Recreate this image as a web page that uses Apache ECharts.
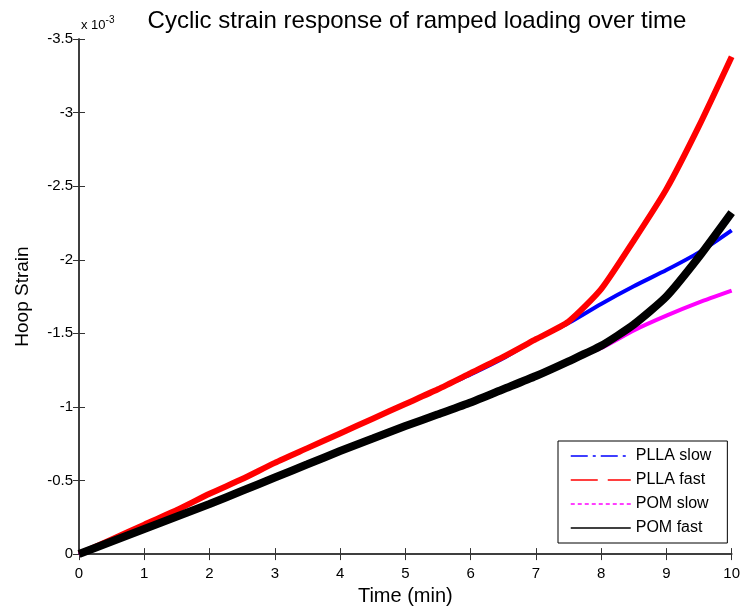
<!DOCTYPE html>
<html>
<head>
<meta charset="utf-8">
<script src="https://cdn.jsdelivr.net/npm/echarts@6/dist/echarts.min.js"></script>
<style>
  html, body { margin: 0; padding: 0; background: #fff; }
  #chart { width: 743px; height: 611px; }
</style>
</head>
<body>
<div id="chart"></div>
<script>
// hoop strain in units of 1e-3, sampled every half minute
var time = [0, 0.5, 1, 1.5, 2, 2.5, 3, 3.5, 4, 4.5, 5, 5.5, 6, 6.5, 7, 7.5, 8, 8.5, 9, 9.5, 10];
var pllaSlow = [0, -0.10, -0.20, -0.30, -0.41, -0.51, -0.62, -0.72, -0.82, -0.92, -1.02, -1.12, -1.22, -1.33, -1.46, -1.57, -1.70, -1.82, -1.93, -2.05, -2.20];
var pllaFast = [0, -0.10, -0.20, -0.30, -0.41, -0.51, -0.62, -0.72, -0.82, -0.92, -1.02, -1.12, -1.23, -1.34, -1.46, -1.58, -1.80, -2.13, -2.48, -2.91, -3.38];
var pomSlow = [0, -0.085, -0.17, -0.255, -0.34, -0.43, -0.52, -0.61, -0.70, -0.785, -0.87, -0.95, -1.03, -1.12, -1.21, -1.31, -1.40, -1.52, -1.62, -1.71, -1.79];
var pomFast = [0, -0.085, -0.17, -0.255, -0.34, -0.43, -0.52, -0.61, -0.70, -0.785, -0.87, -0.95, -1.03, -1.12, -1.21, -1.31, -1.415, -1.56, -1.75, -2.02, -2.32];
var xTicks = [0, 1, 2, 3, 4, 5, 6, 7, 8, 9, 10];

var font = 'Liberation Sans, Arial, sans-serif';
var axisColor = '#333';

function pairs(vals) {
    return time.map(function (t, i) { return [t, vals[i]]; });
}

function makeSeries(name, vals, color, width) {
    return {
        name: name,
        type: 'line',
        data: pairs(vals),
        showSymbol: false,
        symbol: 'none',
        smooth: 0.2,
        lineStyle: { color: color, width: width },
        itemStyle: { color: color },
        animation: false
    };
}

var chart = echarts.init(document.getElementById('chart'));

var boxAxis = {
    axisLine: { show: true, lineStyle: { color: axisColor, width: 1.5 } },
    axisTick: { show: true, inside: true, length: 6, lineStyle: { color: axisColor } },
    splitLine: { show: false }
};

chart.setOption({
    backgroundColor: '#fff',
    title: [{
        text: 'Cyclic strain response of ramped loading over time',
        left: 412,
        top: 4,
        textAlign: 'center',
        textStyle: { fontFamily: font, fontSize: 24, fontWeight: 'normal', color: '#000' }
    }, {
        text: 'x 10{sup|-3}',
        left: 76,
        top: 10,
        textStyle: {
            fontFamily: font, fontSize: 13, fontWeight: 'normal', color: '#000',
            rich: { sup: { fontFamily: font, fontSize: 10, color: '#000', verticalAlign: 'top', padding: [0, 0, 10, 0] } }
        }
    }],
    grid: { left: 79, right: 8, top: 39, bottom: 55 },
    legend: {
        orient: 'vertical',
        left: 558,
        top: 441,
        padding: [7, 16, 7, 12],
        itemWidth: 60,
        itemHeight: 14,
        itemGap: 8,
        backgroundColor: '#fff',
        borderColor: '#000',
        borderWidth: 1,
        itemStyle: { opacity: 0 },
        textStyle: { fontFamily: font, fontSize: 16, color: '#000' },
        data: [
            { name: 'PLLA slow', lineStyle: { width: 1.5, type: [17, 5, 3, 5], color: '#0000ff' } },
            { name: 'PLLA fast', lineStyle: { width: 1.5, type: [27, 10], color: '#ff0000' } },
            { name: 'POM slow', lineStyle: { width: 1.5, type: [4, 3], color: '#ff00ff' } },
            { name: 'POM fast', lineStyle: { width: 1.5, type: 'solid', color: '#000000' } }
        ]
    },
    xAxis: [Object.assign({
        type: 'value',
        min: xTicks[0],
        max: xTicks[xTicks.length - 1],
        interval: 1,
        name: 'Time (min)',
        nameLocation: 'middle',
        nameGap: 31,
        nameTextStyle: { fontFamily: font, fontSize: 20, color: '#000' },
        axisLabel: { fontFamily: font, fontSize: 15, color: '#000', margin: 12 }
    }, boxAxis), Object.assign({
        type: 'value',
        position: 'top',
        min: 0, max: 10, interval: 1,
        axisLabel: { show: false }
    }, boxAxis)],
    yAxis: [Object.assign({
        type: 'value',
        min: -3.5,
        max: 0,
        interval: 0.5,
        inverse: true,
        name: 'Hoop Strain',
        nameLocation: 'middle',
        nameGap: 47,
        nameTextStyle: { fontFamily: font, fontSize: 19, color: '#000' },
        axisLabel: { fontFamily: font, fontSize: 15, color: '#000', margin: 6 }
    }, boxAxis), Object.assign({
        type: 'value',
        position: 'right',
        min: -3.5, max: 0, interval: 0.5,
        inverse: true,
        axisLabel: { show: false }
    }, boxAxis)],
    series: [
        makeSeries('PLLA slow', pllaSlow, '#0000ff', 4),
        makeSeries('PLLA fast', pllaFast, '#ff0000', 6),
        makeSeries('POM slow', pomSlow, '#ff00ff', 4),
        makeSeries('POM fast', pomFast, '#000000', 8)
    ]
});
</script>
</body>
</html>
